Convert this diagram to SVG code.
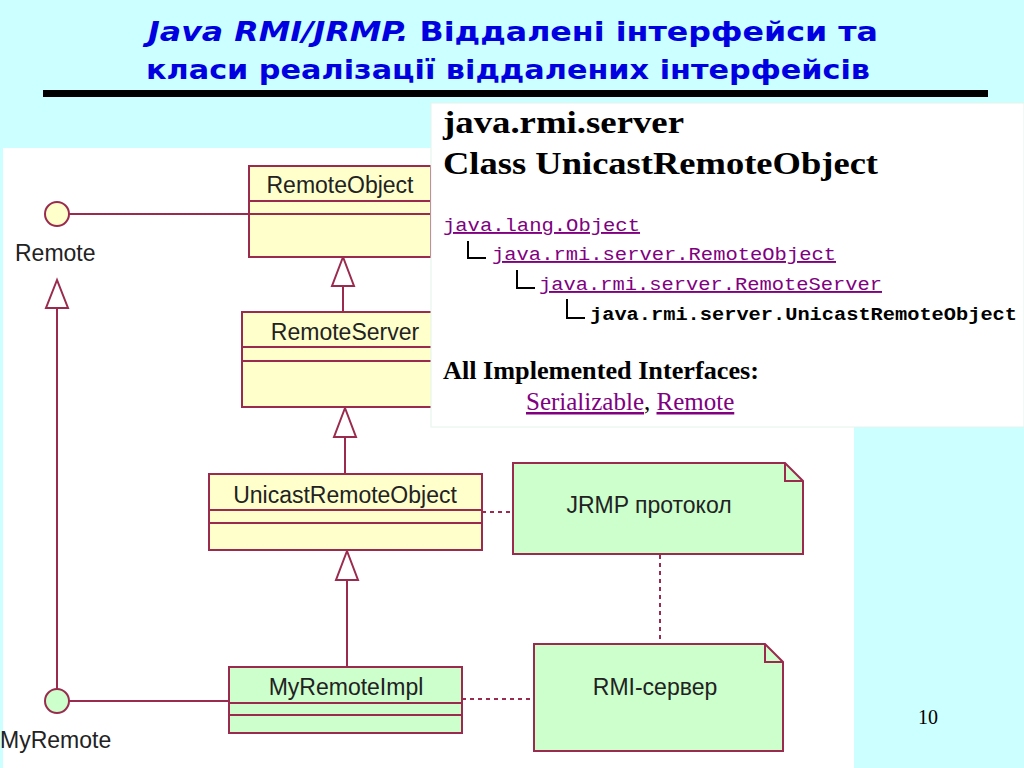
<svg xmlns="http://www.w3.org/2000/svg" width="1024" height="768" viewBox="0 0 1024 768">
<style>
.ln{stroke:#9a2b4e;stroke-width:2;fill:none}
.dash{stroke:#9a2b4e;stroke-width:2;fill:none;stroke-dasharray:4,4}
.cls{stroke:#9a2b4e;stroke-width:2;fill:#ffffcc}
.grn{stroke:#9a2b4e;stroke-width:2;fill:#ccffcc}
.tri{stroke:#9a2b4e;stroke-width:2;fill:#ffffff}
.lbl{font-family:"Liberation Sans",Arial,sans-serif;font-size:23px;fill:#222222}
.ttl{font-family:"DejaVu Sans",Verdana,sans-serif;font-weight:bold;font-size:27px;fill:#0000e0}
.tb{font-family:"Liberation Serif","Times New Roman",serif;font-weight:bold;fill:#000000}
.tr{font-family:"Liberation Serif","Times New Roman",serif;font-size:25px;fill:#000000}
.mono{font-family:"Liberation Mono","Courier New",monospace;font-size:19px}
.lnk{fill:#800080;text-decoration:underline}
</style>
<rect x="0" y="0" width="1024" height="768" fill="#ccffff"/>
<rect x="3" y="148" width="851" height="620" fill="#ffffff"/>

<g id="title">
<text class="ttl" x="148" y="41" textLength="730" lengthAdjust="spacingAndGlyphs"><tspan font-style="italic">Java RMI/JRMP.</tspan> Віддалені інтерфейси та</text>
<text class="ttl" x="146" y="79" textLength="724" lengthAdjust="spacingAndGlyphs">класи реалізації віддалених інтерфейсів</text>
<rect x="43" y="90" width="945" height="7" fill="#000000"/>
</g>

<g id="connectors">
<line class="ln" x1="69" y1="214" x2="249" y2="214"/>
<line class="ln" x1="343" y1="286" x2="343" y2="312"/>
<polygon class="tri" points="343,257 332,286 354,286"/>
<line class="ln" x1="345" y1="437" x2="345" y2="474"/>
<polygon class="tri" points="345,408 334,437 356,437"/>
<line class="ln" x1="347" y1="580" x2="347" y2="667"/>
<polygon class="tri" points="347,551 336,580 358,580"/>
<line class="ln" x1="57" y1="308" x2="57" y2="689"/>
<polygon class="tri" points="57,280 46,308 68,308"/>
<line class="ln" x1="69" y1="701" x2="229" y2="701"/>
<line class="dash" x1="482" y1="512" x2="513" y2="512"/>
<line class="dash" x1="462" y1="699" x2="534" y2="699"/>
<line class="dash" x1="660" y1="555" x2="660" y2="644"/>
</g>

<g id="Remote">
<circle cx="57" cy="214" r="12" class="cls"/>
<text class="lbl" x="15" y="261">Remote</text>
</g>

<g id="MyRemote">
<circle cx="57" cy="701" r="12" class="grn"/>
<text class="lbl" x="0" y="748">MyRemote</text>
</g>

<g id="RemoteObject">
<rect class="cls" x="249" y="166" width="182" height="91"/>
<line class="ln" x1="249" y1="201" x2="431" y2="201"/>
<line class="ln" x1="249" y1="214" x2="431" y2="214"/>
<text class="lbl" x="340" y="193" text-anchor="middle">RemoteObject</text>
</g>

<g id="RemoteServer">
<rect class="cls" x="242" y="312" width="208" height="95"/>
<line class="ln" x1="242" y1="347" x2="450" y2="347"/>
<line class="ln" x1="242" y1="361" x2="450" y2="361"/>
<text class="lbl" x="345" y="340" text-anchor="middle">RemoteServer</text>
</g>

<g id="UnicastRemoteObject">
<rect class="cls" x="209" y="474" width="273" height="76"/>
<line class="ln" x1="209" y1="510" x2="482" y2="510"/>
<line class="ln" x1="209" y1="523" x2="482" y2="523"/>
<text class="lbl" x="345" y="503" text-anchor="middle">UnicastRemoteObject</text>
</g>

<g id="MyRemoteImpl">
<rect class="grn" x="229" y="667" width="233" height="66"/>
<line class="ln" x1="229" y1="703" x2="462" y2="703"/>
<line class="ln" x1="229" y1="715" x2="462" y2="715"/>
<text class="lbl" x="346" y="695" text-anchor="middle">MyRemoteImpl</text>
</g>

<g id="JRMP">
<path class="grn" d="M513,463 H785 L803,481 V554 H513 Z"/>
<path class="ln" d="M785,463 V481 H803"/>
<text class="lbl" x="649" y="513" text-anchor="middle">JRMP протокол</text>
</g>

<g id="RMIServer">
<path class="grn" d="M534,644 H765 L783,662 V751 H534 Z"/>
<path class="ln" d="M765,644 V662 H783"/>
<text class="lbl" x="655" y="695" text-anchor="middle">RMI-сервер</text>
</g>

<g id="javadoc">
<rect x="431" y="103" width="593" height="324" fill="#ffffff" stroke="#e4f4ec" stroke-width="1"/>
<text class="tb" x="443" y="133" font-size="32" textLength="241" lengthAdjust="spacingAndGlyphs">java.rmi.server</text>
<text class="tb" x="443" y="174" font-size="32" textLength="435" lengthAdjust="spacingAndGlyphs">Class UnicastRemoteObject</text>
<text class="mono lnk" x="443" y="231" textLength="197" lengthAdjust="spacingAndGlyphs">java.lang.Object</text>
<path d="M468,241 V258 H486" stroke="#000" stroke-width="2" fill="none"/>
<text class="mono lnk" x="492" y="260" textLength="344" lengthAdjust="spacingAndGlyphs">java.rmi.server.RemoteObject</text>
<path d="M517,270 V288 H535" stroke="#000" stroke-width="2" fill="none"/>
<text class="mono lnk" x="539" y="290" textLength="343" lengthAdjust="spacingAndGlyphs">java.rmi.server.RemoteServer</text>
<path d="M567,299 V318 H585" stroke="#000" stroke-width="2" fill="none"/>
<text class="mono" x="590" y="320" font-weight="bold" fill="#000" textLength="427" lengthAdjust="spacingAndGlyphs">java.rmi.server.UnicastRemoteObject</text>
<text class="tb" x="443" y="379" font-size="26" textLength="316" lengthAdjust="spacingAndGlyphs">All Implemented Interfaces:</text>
<text class="tr" x="526" y="410"><tspan class="lnk">Serializable</tspan>, <tspan class="lnk">Remote</tspan></text>
</g>

<text x="918" y="724" font-family="Liberation Serif,'Times New Roman',serif" font-size="20" fill="#000">10</text>
</svg>
